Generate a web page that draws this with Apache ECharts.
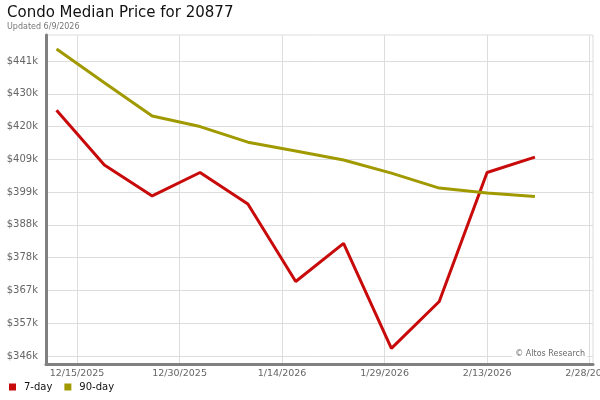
<!DOCTYPE html>
<html>
<head>
<meta charset="utf-8">
<script src="https://cdn.jsdelivr.net/npm/echarts@6/dist/echarts.min.js"></script>
<style>
html,body{margin:0;padding:0;background:#fff;}
#chart{width:600px;height:400px;}
</style>
</head>
<body>
<div id="chart"></div>
<script>
// Data
const dates = ['2025-12-12','2025-12-19','2025-12-26','2026-01-02','2026-01-09','2026-01-16','2026-01-23','2026-01-30','2026-02-06','2026-02-13','2026-02-20'];
const sevenDay = [424800, 407300, 397400, 404900, 394800, 370000, 382200, 348600, 363600, 404900, 409800];
const ninetyDay = [444400, 433600, 423000, 419600, 414600, 411800, 408900, 404700, 399900, 398300, 397200];
const xTickDates = ['2025-12-15','2025-12-30','2026-01-14','2026-01-29','2026-02-13','2026-02-28'];
const yTickValues = [346170, 356660, 367150, 377640, 388130, 398620, 409110, 419600, 430090, 440580];

function toTs(s){const p=s.split('-').map(Number);return new Date(p[0],p[1]-1,p[2]).getTime();}
const xTicks = xTickDates.map(toTs);
const xMin = toTs('2025-12-10') + 11*3600000;
const xMax = toTs('2026-02-28') + 12*3600000;

const chart = echarts.init(document.getElementById('chart'), null, {renderer:'canvas'});
const font = 'DejaVu Sans';
chart.setOption({
  animation:false,
  backgroundColor:'#fff',
  textStyle:{fontFamily:font},
  title:{
    text:'Condo Median Price for 20877',
    subtext:'Updated 6/9/2026',
    left:2, top:1, itemGap:2,
    textStyle:{fontSize:15, fontWeight:'normal', color:'#111', fontFamily:font},
    subtextStyle:{fontSize:8, color:'#777', fontFamily:font}
  },
  legend:{
    left:4, top:377, icon:'rect', itemWidth:7, itemHeight:7, itemGap:12,
    textStyle:{fontSize:10, color:'#111', fontFamily:font, padding:[0,0,0,3]},
    data:['7-day','90-day']
  },
  grid:{left:46, right:7, top:35, bottom:36, show:true, borderColor:'#dddddd', borderWidth:1,
    containLabel:false, outerBoundsMode:'none'},
  xAxis:{
    type:'value', min:xMin, max:xMax, scale:true,
    axisLine:{show:true, onZero:false, lineStyle:{color:'#808080', width:3}},
    axisTick:{show:false, customValues:xTicks},
    axisLabel:{customValues:xTicks, color:'#666', fontSize:9.5, fontFamily:font, margin:5,
      formatter:function(v){const d=new Date(v);return (d.getMonth()+1)+'/'+d.getDate()+'/'+d.getFullYear();}},
    splitLine:{show:true, lineStyle:{color:'#dddddd', width:1}}
  },
  yAxis:{
    type:'value', min:343610, max:448900, scale:true,
    axisLine:{show:true, onZero:false, lineStyle:{color:'#808080', width:3}},
    axisTick:{show:false, customValues:yTickValues},
    axisLabel:{customValues:yTickValues, color:'#666', fontSize:10, fontFamily:font, margin:8,
      formatter:function(v){return '$'+Math.round(v/1000)+'k';}},
    splitLine:{show:true, lineStyle:{color:'#dddddd', width:1}}
  },
  graphic:[{
    type:'text', right:13, top:349, z:100,
    style:{text:'\u00A9 Altos Research', fontSize:8, fill:'#6a6a6a', fontFamily:font,
      backgroundColor:'#fff', padding:[1,2,1,3]}
  }],
  series:[
    {name:'7-day', type:'line', showSymbol:false, symbol:'none', color:'#c80a0a',
      lineStyle:{width:3, color:'#c80a0a'},
      data:dates.map((d,i)=>[toTs(d), sevenDay[i]])},
    {name:'90-day', type:'line', showSymbol:false, symbol:'none', color:'#a09a00',
      lineStyle:{width:3, color:'#a09a00'},
      data:dates.map((d,i)=>[toTs(d), ninetyDay[i]])}
  ]
});
</script>
</body>
</html>
